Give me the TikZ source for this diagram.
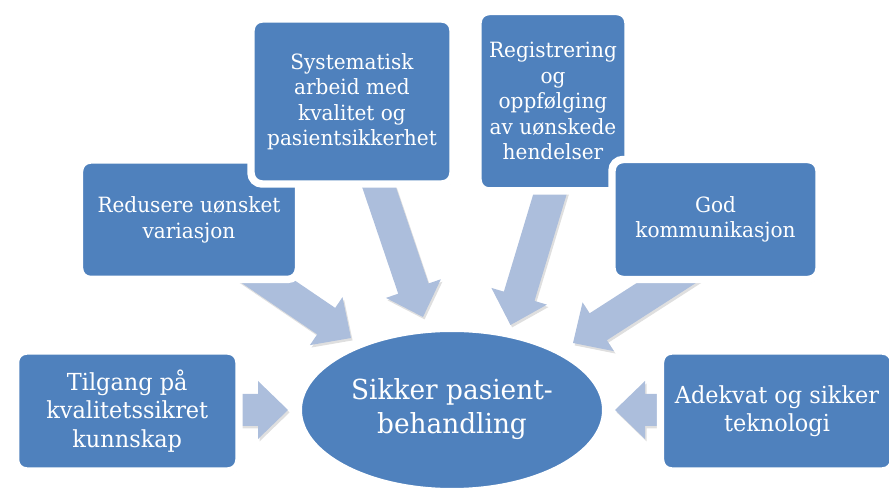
\documentclass[tikz,border=0pt]{standalone}
\usepackage{fontspec}
\setmainfont{DejaVu Serif}[FakeStretch=0.955]
\usetikzlibrary{shapes.geometric,shadows,calc}
\definecolor{boxblue}{RGB}{79,129,189}
\definecolor{arrblue}{RGB}{172,190,220}
\pgfdeclarelayer{bg}
\pgfsetlayers{bg,main}
\tikzset{
  box/.style={rectangle, rounded corners=8.25pt, fill=boxblue, draw=white, line width=5.6pt,
    text=white, align=center, inner sep=0pt,
    drop shadow={shadow xshift=1pt, shadow yshift=-2.2pt, opacity=0.3}},
  smalltxt/.style={font=\fontsize{15.75}{19.1}\selectfont},
  largetxt/.style={font=\fontsize{17.6}{21.4}\selectfont},
  hub/.style={ellipse, fill=boxblue, draw=white, line width=6pt, text=white, align=center,
    inner sep=0pt, minimum width=229.5pt, minimum height=123pt,
    font=\fontsize{20.7}{25.5}\selectfont,
    drop shadow={shadow xshift=1pt, shadow yshift=-2.2pt, opacity=0.3}},
  arr/.style={fill=arrblue, drop shadow={shadow xshift=1.2pt, shadow yshift=-1.8pt, opacity=0.25}}
}
\newcommand\blockarrow[2]{%
  \coordinate (#2b) at ($(#2)!22.5pt!(#1)$);
  \fill[arr] ($(#1)!12pt!90:(#2)$) -- ($(#2b)!12pt!90:(#2)$) -- ($(#2b)!21.75pt!90:(#2)$) -- (#2)
    -- ($(#2b)!21.75pt!-90:(#2)$) -- ($(#2b)!12pt!-90:(#2)$) -- ($(#1)!12pt!-90:(#2)$) -- cycle;}
\begin{document}
\begin{tikzpicture}[x=0.75pt, y=-0.75pt]
\useasboundingbox (0,0) rectangle (889,491);
\node[box, largetxt, minimum width=167.6pt, minimum height=90pt] (b1) at (127.25,411)
  {Tilgang på\\kvalitetssikret\\kunnskap};
\node[box, smalltxt, minimum width=164.25pt, minimum height=89.6pt] (b2) at (189,219.75)
  {Redusere uønsket\\variasjon};
\node[box, smalltxt, minimum width=151.5pt, minimum height=123.75pt] (b3) at (352,101.5)
  {Systematisk\\arbeid med\\kvalitet og\\pasientsikkerhet};
\node[box, smalltxt, minimum width=112.5pt, minimum height=134.6pt] (b4) at (553,101.25)
  {Registrering\\og\\oppfølging\\av uønskede\\hendelser};
\node[box, smalltxt, minimum width=155.25pt, minimum height=90pt] (b5) at (715.5,219.5)
  {God\\kommunikasjon};
\node[box, largetxt, minimum width=174.75pt, minimum height=90pt] (b6) at (777,411)
  {Adekvat og sikker\\teknologi};
\node[hub, minimum width=231pt] (c) at (452,410) {\raisebox{-3pt}{\begin{tabular}{@{}c@{}}Sikker pasient-\\[0pt]behandling\end{tabular}}};
\begin{pgfonlayer}{bg}
  \coordinate (s1) at ($(b1.center)+(73,-1)$);
  \coordinate (t1) at (288,410);
  \coordinate (s2) at ($(b2.center)+(-12,0)$);
  \coordinate (t2) at (351,338);
  \coordinate (s3) at ($(b3.center)+(-2,0)$);
  \coordinate (t3) at (423,317);
  \coordinate (s4) at ($(b4.center)+(25,0)$);
  \coordinate (t4) at (510.5,325);
  \coordinate (s5) at ($(b5.center)+(49.5,0)$);
  \coordinate (t5) at (573,343);
  \coordinate (s6) at ($(b6.center)+(-77,-1)$);
  \coordinate (t6) at (615,410);
  \blockarrow{s1}{t1}
  \blockarrow{s2}{t2}
  \blockarrow{s3}{t3}
  \blockarrow{s4}{t4}
  \blockarrow{s5}{t5}
  \blockarrow{s6}{t6}
\end{pgfonlayer}
\end{tikzpicture}
\end{document}
